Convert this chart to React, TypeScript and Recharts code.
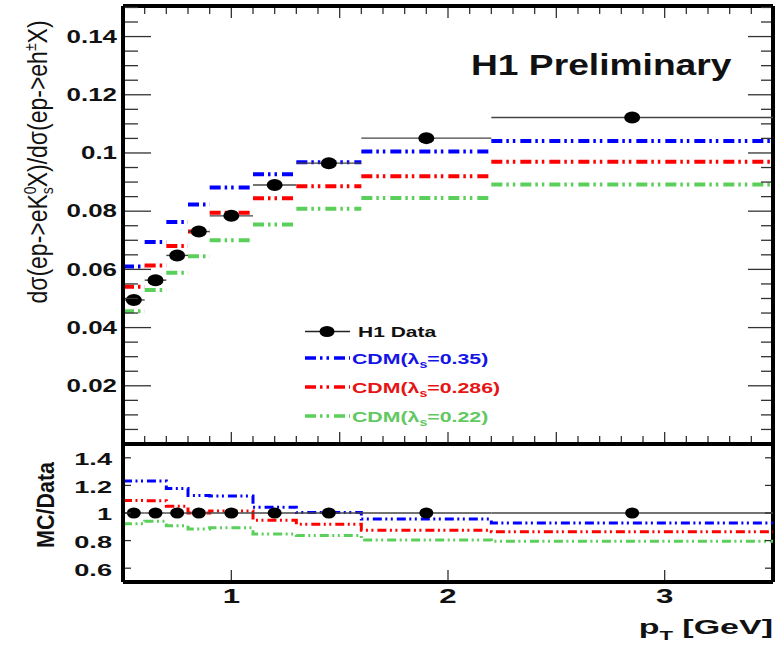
import {
  ComposedChart,
  Line,
  Scatter,
  ErrorBar,
  XAxis,
  YAxis,
  ReferenceLine,
} from "recharts";

// pT bins [GeV]
const binEdges = [0.5, 0.6, 0.7, 0.8, 0.9, 1.1, 1.3, 1.6, 2.2, 3.5];
const binCenters = [0.55, 0.65, 0.75, 0.85, 1.0, 1.2, 1.45, 1.9, 2.85];

// K0s / charged ratio
const h1Data = [0.0495, 0.0563, 0.0648, 0.073, 0.0784, 0.089, 0.0965, 0.1051, 0.1122];
const cdm035 = [0.061, 0.0694, 0.0763, 0.0823, 0.0881, 0.0927, 0.0968, 0.1005, 0.1041];
const cdm0286 = [0.054, 0.0613, 0.068, 0.073, 0.0795, 0.0844, 0.0886, 0.092, 0.097];
const cdm022 = [0.0456, 0.0529, 0.0588, 0.0645, 0.07, 0.0754, 0.0808, 0.0845, 0.0892];

const topYLabels = [0.02, 0.04, 0.06, 0.08, 0.1, 0.12, 0.14];
const ratioYLabels = [0.6, 0.8, 1, 1.2, 1.4];
const xLabels = [1, 2, 3];

const BLUE = "#0000ff";
const RED = "#ff0000";
const GREEN = "#5ad05a";
const FONT = "'Liberation Sans', Arial, sans-serif";
const DASH_TOP = "11 4 2.5 4 2.5 5";
const DASH_LOW = "9 3.5 2 3.5 2 4";

// plot frame (x in page pixels, y relative to each panel's svg)
const PL = 123;
const PR = 773;
const TOP_Y0 = 6;
const TOP_Y1 = 444;
const LOW_TOP = 438; // page offset of the ratio panel
const LOW_Y1 = 144;
const TOP_MAX = 0.1505;

const minorY = Array.from({ length: 30 }, (_, i) => +((i + 1) * 0.005).toFixed(3));
const minorX = Array.from({ length: 29 }, (_, i) => +(0.6 + i * 0.1).toFixed(1));

// histogram drawn as separate horizontal pieces
const segments = (vals: number[]) =>
  vals.flatMap((v, i) => [
    { x: binEdges[i], y: v },
    { x: binEdges[i + 1], y: v },
    { x: binEdges[i + 1], y: null },
  ]);

const ratioSteps = (vals: number[]) => [
  ...vals.map((v, i) => ({ x: binEdges[i], y: v / h1Data[i] })),
  { x: binEdges[binEdges.length - 1], y: vals[vals.length - 1] / h1Data[h1Data.length - 1] },
];

const dataPoints = binCenters.map((x, i) => ({
  x,
  y: h1Data[i],
  xerr: (binEdges[i + 1] - binEdges[i]) / 2,
}));
const ratioPoints = binCenters.map((x, i) => ({
  x,
  y: h1Data[i] / h1Data[i],
  xerr: (binEdges[i + 1] - binEdges[i]) / 2,
}));

const TopYTick = (props: any) => {
  const { y, payload } = props;
  const v = payload.value;
  const major = topYLabels.some((m) => Math.abs(m - v) < 1e-6);
  const len = major ? 26 : 13;
  const rlen = major ? 23 : 10;
  return (
    <g>
      <line x1={PL + 2} x2={PL + 2 + len} y1={y} y2={y} stroke="#333" strokeWidth={1.3} />
      <line x1={PR - 2 - rlen} x2={PR - 2} y1={y} y2={y} stroke="#333" strokeWidth={1.3} />
      {major && (
        <text
          transform={`translate(117,${y}) scale(1.4,1)`}
          textAnchor="end"
          dominantBaseline="central"
          fontFamily={FONT}
          fontWeight="bold"
          fontSize={18.5}
          fill="#111"
        >
          {String(v)}
        </text>
      )}
    </g>
  );
};

const TopXTick = (props: any) => {
  const { x, payload } = props;
  const v = payload.value;
  const major = Math.abs(v * 2 - Math.round(v * 2)) < 1e-6;
  const len = major ? 10 : 6;
  return (
    <g>
      <line x1={x} x2={x} y1={TOP_Y0 + 2} y2={TOP_Y0 + 2 + len} stroke="#333" strokeWidth={1.3} />
      <line x1={x} x2={x} y1={TOP_Y1 - 2} y2={TOP_Y1 - 2 - len} stroke="#333" strokeWidth={1.3} />
    </g>
  );
};

const LowYTick = (props: any) => {
  const { y, payload } = props;
  return (
    <g>
      <line x1={PL + 2} x2={PL + 8} y1={y} y2={y} stroke="#333" strokeWidth={1.3} />
      <line x1={PR - 8} x2={PR - 2} y1={y} y2={y} stroke="#333" strokeWidth={1.3} />
      <text
        transform={`translate(112,${y + 2}) scale(1.7,1)`}
        textAnchor="end"
        dominantBaseline="central"
        fontFamily={FONT}
        fontWeight="bold"
        fontSize={16}
        fill="#111"
      >
        {String(payload.value)}
      </text>
    </g>
  );
};

const LowXTick = (props: any) => {
  const { x, payload } = props;
  return (
    <g>
      <line x1={x} x2={x} y1={LOW_Y1 - 2} y2={LOW_Y1 - 12} stroke="#333" strokeWidth={1.3} />
      <text
        transform={`translate(${x},${LOW_Y1 + 21}) scale(1.6,1)`}
        textAnchor="middle"
        fontFamily={FONT}
        fontWeight="bold"
        fontSize={19.5}
        fill="#111"
      >
        {String(payload.value)}
      </text>
    </g>
  );
};

const Dot = (rx: number, ry: number) => (p: any) =>
  <ellipse cx={p.cx} cy={p.cy} rx={rx} ry={ry} fill="#000" />;

const frame = { stroke: "#000", strokeWidth: 4 };

const TopPanel = () => (
  <ComposedChart width={781} height={450} margin={{ top: TOP_Y0, right: 8, bottom: 5, left: 0 }}>
    <XAxis
      type="number"
      dataKey="x"
      domain={[0.5, 3.5]}
      allowDataOverflow
      ticks={minorX}
      interval={0}
      height={1}
      tickLine={false}
      axisLine={frame}
      tick={TopXTick}
    />
    <YAxis
      type="number"
      dataKey="y"
      domain={[0, TOP_MAX]}
      allowDataOverflow
      ticks={minorY}
      interval={0}
      width={PL}
      tickLine={false}
      axisLine={frame}
      tick={TopYTick}
    />
    <ReferenceLine y={TOP_MAX} {...frame} />
    <ReferenceLine x={3.5} {...frame} />
    <Line data={segments(cdm035)} dataKey="y" stroke={BLUE} strokeWidth={4} strokeDasharray={DASH_TOP} dot={false} isAnimationActive={false} />
    <Line data={segments(cdm0286)} dataKey="y" stroke={RED} strokeWidth={4} strokeDasharray={DASH_TOP} dot={false} isAnimationActive={false} />
    <Line data={segments(cdm022)} dataKey="y" stroke={GREEN} strokeWidth={4} strokeDasharray={DASH_TOP} dot={false} isAnimationActive={false} />
    <Scatter data={dataPoints} shape={Dot(8, 6)} isAnimationActive={false}>
      <ErrorBar dataKey="xerr" direction="x" width={0} stroke="#444" strokeWidth={1.4} />
    </Scatter>
  </ComposedChart>
);

const RatioPanel = () => (
  <ComposedChart width={781} height={211} margin={{ top: 6, right: 8, bottom: 0, left: 0 }}>
    <XAxis
      type="number"
      dataKey="x"
      domain={[0.5, 3.5]}
      allowDataOverflow
      ticks={xLabels}
      interval={0}
      height={67}
      tickLine={false}
      axisLine={frame}
      tick={LowXTick}
    />
    <YAxis
      type="number"
      dataKey="y"
      domain={[0.5, 1.5]}
      allowDataOverflow
      ticks={ratioYLabels}
      interval={0}
      width={PL}
      tickLine={false}
      axisLine={frame}
      tick={LowYTick}
    />
    <ReferenceLine y={1.5} {...frame} />
    <ReferenceLine x={3.5} {...frame} />
    <Line data={ratioSteps(cdm035)} type="stepAfter" dataKey="y" stroke={BLUE} strokeWidth={3} strokeDasharray={DASH_LOW} dot={false} isAnimationActive={false} />
    <Line data={ratioSteps(cdm0286)} type="stepAfter" dataKey="y" stroke={RED} strokeWidth={3} strokeDasharray={DASH_LOW} dot={false} isAnimationActive={false} />
    <Line data={ratioSteps(cdm022)} type="stepAfter" dataKey="y" stroke={GREEN} strokeWidth={3} strokeDasharray={DASH_LOW} dot={false} isAnimationActive={false} />
    <Scatter data={ratioPoints} shape={Dot(7, 5.5)} isAnimationActive={false}>
      <ErrorBar dataKey="xerr" direction="x" width={0} stroke="#444" strokeWidth={1.4} />
    </Scatter>
  </ComposedChart>
);

const legendRows = [
  { label: "0.35", color: BLUE, text: "#1414e6", y: 358 },
  { label: "0.286", color: RED, text: "#e61414", y: 387 },
  { label: "0.22", color: GREEN, text: "#62c862", y: 416 },
];

const Annotations = () => (
  <svg
    width={781}
    height={649}
    style={{ position: "absolute", left: 0, top: 0, pointerEvents: "none" }}
  >
    <text
      transform="translate(471,75) scale(1.24,1)"
      fontFamily={FONT}
      fontWeight="bold"
      fontSize={30}
      fill="#111"
    >
      H1 Preliminary
    </text>

    {/* legend */}
    <line x1={305} x2={350} y1={331.5} y2={331.5} stroke="#222" strokeWidth={1.4} />
    <ellipse cx={327} cy={331.5} rx={7.5} ry={5.5} fill="#000" />
    <text
      transform="translate(358,336.5) scale(1.5,1)"
      fontFamily={FONT}
      fontWeight="bold"
      fontSize={14}
      fill="#111"
    >
      H1 Data
    </text>
    {legendRows.map((r) => (
      <g key={r.label}>
        <line x1={305} x2={350} y1={r.y} y2={r.y} stroke={r.color} strokeWidth={3.5} strokeDasharray={DASH_TOP} />
        <text
          transform={`translate(352,${r.y + 5.5}) scale(1.42,1)`}
          fontFamily={FONT}
          fontWeight="bold"
          fontSize={15}
          fill={r.text}
        >
          CDM(λ
          <tspan fontSize={10} dy={4}>s</tspan>
          <tspan dy={-4}>={r.label})</tspan>
        </text>
      </g>
    ))}

    {/* axis titles */}
    <text
      transform="translate(47,162) scale(1.2,1) rotate(-90)"
      textAnchor="middle"
      fontFamily={FONT}
      fontSize={23}
      fill="#111"
    >
      {"dσ(ep->eK"}
      <tspan fontSize={14} dy={-9}>0</tspan>
      <tspan fontSize={14} dx={-8} dy={14}>s</tspan>
      <tspan dy={-5}>{"X)/dσ(ep->eh"}</tspan>
      <tspan fontSize={14} dy={-9}>±</tspan>
      <tspan dy={9}>X)</tspan>
    </text>
    <text
      transform={`translate(54,${LOW_TOP + 67}) scale(1.1,1) rotate(-90)`}
      textAnchor="middle"
      fontFamily={FONT}
      fontWeight="bold"
      fontSize={21.5}
      fill="#111"
    >
      MC/Data
    </text>
    <text
      transform="translate(773,634) scale(1.7,1)"
      textAnchor="end"
      fontFamily={FONT}
      fontWeight="bold"
      fontSize={20}
      fill="#111"
    >
      p
      <tspan fontSize={13} dy={6}>T</tspan>
      <tspan dy={-6}> [GeV]</tspan>
    </text>
  </svg>
);

export default function App() {
  return (
    <div
      style={{
        position: "absolute",
        left: 0,
        top: 0,
        width: 781,
        height: 649,
        background: "#fff",
        overflow: "hidden",
      }}
    >
      <div style={{ position: "absolute", left: 0, top: 0 }}>
        <TopPanel />
      </div>
      <div style={{ position: "absolute", left: 0, top: LOW_TOP }}>
        <RatioPanel />
      </div>
      <Annotations />
    </div>
  );
}
